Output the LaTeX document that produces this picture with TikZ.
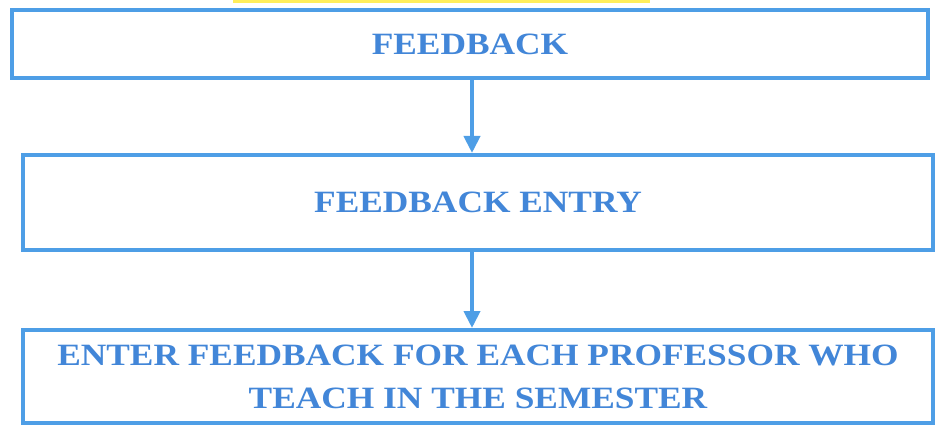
\documentclass[tikz,border=0pt]{standalone}
\usepackage{fontspec}
\setmainfont{Liberation Serif}
\newfontfamily\boxfont[FakeStretch=1.14]{Liberation Serif}
\usetikzlibrary{arrows.meta, positioning, calc}
\definecolor{boxblue}{RGB}{78, 158, 230}
\definecolor{textblue}{RGB}{66, 134, 216}
\definecolor{markyellow}{RGB}{255, 238, 90}

\begin{document}
\begin{tikzpicture}[
        x=1pt, y=-1pt,
        stage/.style={draw=boxblue, line width=4pt, fill=white, text=textblue,
            font=\boxfont\bfseries\fontsize{31}{43}\selectfont, align=center, inner sep=0pt},
        flow/.style={draw=boxblue, line width=4pt, -{Triangle[length=17pt, width=16pt]}}
    ]
        % Page size
        \useasboundingbox (0, 0) rectangle (935, 425);

        % Highlight strip at the top
        \fill[markyellow] (233, 0) rectangle (650, 3);

        % Boxes
        \node[stage, minimum width=916pt, minimum height=68pt] (feedback) at (470, 44) {FEEDBACK};
        \node[stage, minimum width=910pt, minimum height=95pt] (entry) at (478, 202.5) {FEEDBACK ENTRY};
        \node[stage, minimum width=910pt, minimum height=93pt] (enter) at (478, 376.5) {
            ENTER FEEDBACK FOR EACH PROFESSOR WHO\\
            TEACH IN THE SEMESTER
        };

        % Arrows
        \coordinate (arrx) at (472, 0);
        \draw[flow] (feedback.south -| arrx) -- (entry.north -| arrx);
        \draw[flow] (entry.south -| arrx) -- (enter.north -| arrx);
    \end{tikzpicture}
\end{document}
